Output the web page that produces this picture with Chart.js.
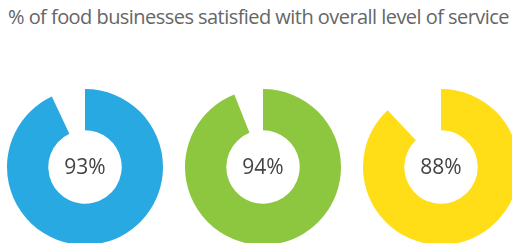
<!DOCTYPE html>
<html>
<head>
<meta charset="utf-8">
<script src="https://cdn.jsdelivr.net/npm/chart.js@4/dist/chart.umd.min.js"></script>
<style>
  html, body { margin: 0; padding: 0; background: #fff; }
  body { width: 512px; height: 243px; overflow: hidden; position: relative; }
  #title { position: absolute; left: 8px; top: 3px; white-space: nowrap;
           font-family: "Open Sans", sans-serif; font-size: 20px; color: #666; letter-spacing: -0.6px; }
  .wrap { position: absolute; width: 170px; height: 170px; top: 82px; }
</style>
</head>
<body>
<div id="title">% of food businesses satisfied with overall level of service</div>
<div class="wrap" style="left:0px"><canvas id="c0" width="170" height="170"></canvas></div>
<div class="wrap" style="left:178px"><canvas id="c1" width="170" height="170"></canvas></div>
<div class="wrap" style="left:356px"><canvas id="c2" width="170" height="170"></canvas></div>
<script>
const categories = ["Blue", "Green", "Yellow"];
const satisfied = [93, 94, 88];
const centerLabels = ["93%", "94%", "88%"];
const colors = ["#29A9E1", "#8DC63F", "#FFDD17"];

// fit title width to reference (~501px)
(function () {
  const t = document.getElementById('title');
  const w = t.getBoundingClientRect().width;
  const n = t.textContent.length;
  const ls = -0.6 + (501 - w) / n;
  t.style.letterSpacing = ls + 'px';
})();

const centerText = {
  id: 'centerText',
  afterDraw(chart, args, opts) {
    const meta = chart.getDatasetMeta(0).data[0];
    const ctx = chart.ctx;
    ctx.save();
    ctx.font = '21px "Open Sans", sans-serif';
    ctx.fillStyle = '#444';
    ctx.textAlign = 'center';
    ctx.textBaseline = 'middle';
    ctx.fillText(opts.text, meta.x, meta.y + 1);
    ctx.restore();
  }
};

satisfied.forEach((v, i) => {
  new Chart(document.getElementById('c' + i), {
    type: 'doughnut',
    data: {
      labels: [categories[i], 'Other'],
      datasets: [{
        data: [v, 100 - v],
        backgroundColor: [colors[i], 'rgba(0,0,0,0)'],
        borderWidth: 0
      }]
    },
    options: {
      responsive: false,
      animation: false,
      radius: 78,
      cutout: 40,
      layout: { padding: 0 },
      plugins: {
        legend: { display: false },
        tooltip: { enabled: false },
        centerText: { text: centerLabels[i] }
      }
    },
    plugins: [centerText]
  });
});
</script>
</body>
</html>
